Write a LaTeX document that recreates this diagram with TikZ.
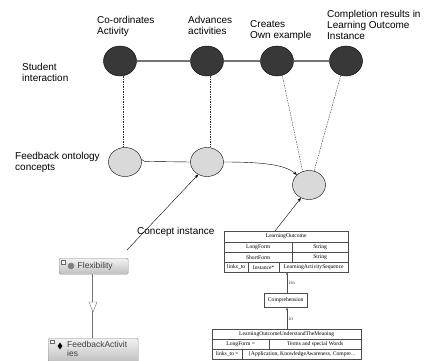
\documentclass[tikz,border=0pt]{standalone}
\usepackage{fontspec}
\setmainfont{Liberation Sans}
\newfontfamily\tabfont{Liberation Serif}
\usetikzlibrary{arrows.meta,positioning,shapes.geometric}

\begin{document}
\begin{tikzpicture}[x=1pt,y=-1pt,
    blackdot/.style={ellipse,draw=black,fill=black!78,minimum width=33pt,minimum height=30pt,inner sep=0},
    greydot/.style={ellipse,draw=black,fill=black!15,minimum width=33pt,minimum height=29pt,inner sep=0},
    lbl/.style={align=left,font=\fontsize{10}{11}\selectfont,inner sep=0,anchor=north west},
    cell/.style={draw=black!70,inner sep=0,font=\tabfont\fontsize{5.6}{6}\selectfont,anchor=north west},
    pbox/.style={draw=black!45,rounded corners=1.5pt,top color=black!5,bottom color=black!25,anchor=north west},
    dot/.style={dash pattern=on 1.5pt off 1pt,black!80},
    link/.style={-{Stealth[length=4pt,width=3pt]}}]
\useasboundingbox (0,0) rectangle (429,361);

% student interaction
\node (A) [blackdot] at (120,61) {};
\node (B) [blackdot] at (207,61) {};
\node (C) [blackdot] at (277,61) {};
\node (D) [blackdot] at (346,61) {};
\draw [black!55,line width=1.2pt] (A) -- (B) -- (C) -- (D);

\node [lbl] at (97,16) {Co-ordinates\\Activity};
\node [lbl] at (188,16) {Advances\\activities};
\node [lbl] at (250,20) {Creates\\Own example};
\node [lbl] at (327,10) {Completion results in\\Learning Outcome\\Instance};
\node [lbl] at (22,63) {Student\\interaction};

% feedback ontology concepts
\node (E) [greydot] at (125,162) {};
\node (F) [greydot] at (207,162) {};
\node (G) [greydot] at (309,185) {};
\node [lbl] at (15,152) {Feedback ontology\\concepts};

\draw [dot] (A.south) ++(3,0) coordinate (a1) -- (a1 |- E.north);
\draw [dot] (B.south) ++(3,0) coordinate (b1) -- (b1 |- F.north);
\draw [dot] (C.290) -- (G.115);
\draw [dot] (D.250) -- (G.70);

\draw (E.10) .. controls (145,162) .. (150,161.5) -- (F.west);
\draw [link] (F.east) .. controls (265,162) and (285,165) .. (G.140);

% concept instance
\node (H) [lbl] at (137,227) {Concept instance};
\coordinate (h1) at (127,250);
\draw [link] (h1) -- (F.235);

% learning outcome table
\node (T) [cell,minimum width=124pt,minimum height=11pt] at (224,231) {LearningOutcome};
\node (T1) [cell,minimum width=68pt,minimum height=10pt] at (224,242) {LongForm};
\node (T2) [cell,minimum width=56pt,minimum height=10pt] at (292,242) {String};
\node (T3) [cell,minimum width=68pt,minimum height=10pt] at (224,252) {ShortForm};
\node (T4) [cell,minimum width=56pt,minimum height=10pt] at (292,252) {String};
\node (T5) [cell,minimum width=24pt,minimum height=10pt] at (224,262) {links\_to};
\node (T6) [cell,minimum width=31pt,minimum height=10pt] at (248,262) {Instance*};
\node (T7) [cell,minimum width=69pt,minimum height=10pt] at (279,262) {LearningActivitySequence};
\draw [link] (275,231) -- (G.238);

\node (K) [cell,minimum width=43pt,minimum height=14pt] at (264,293) {Comprehension};
\draw [-{Stealth[length=3pt,width=2pt]},black!70] (K.north -| 287,0) -- node [right,font=\tabfont\fontsize{5.6}{6}\selectfont,inner sep=1.5pt] {isa} (287,272);

\node (U) [cell,minimum width=149pt,minimum height=10pt] at (212,329) {LearningOutcomeUnderstandTheMeaning};
\node (U1) [cell,minimum width=57pt,minimum height=10pt] at (212,339) {LongForm =};
\node (U2) [cell,minimum width=92pt,minimum height=10pt] at (269,339) {Terms and special Words};
\node (U3) [cell,minimum width=30pt,minimum height=10pt] at (212,349) {links\_to =};
\node (U4) [cell,minimum width=119pt,minimum height=10pt] at (242,349) {\{Application, KnowledgeAwareness, Compre...};
\draw [-{Stealth[length=3pt,width=2pt]},black!70] (U.north -| 287,0) -- node [right,font=\tabfont\fontsize{5.6}{6}\selectfont,inner sep=1.5pt] {io} (K.south -| 287,0);

% protege classes
\node (P) [pbox,minimum width=69pt,minimum height=16pt] at (59,258) {};
\draw [black!60,fill=white] (61.5,260.5) rectangle ++(3.5,3.5);
\fill [black!50] (71,266) circle (3.3);
\node [anchor=west,inner sep=0,font=\fontsize{8.5}{9}\selectfont,text=black!75] at (77.5,266) {Flexibility};

\node (Q) [pbox,minimum width=90pt,minimum height=24pt] at (48,338) {};
\draw [black!60,fill=white] (50.5,340) rectangle ++(3.5,3.5);
\node [diamond,fill=black,inner sep=0,minimum width=5pt,minimum height=7pt] at (60,346) {};
\node [anchor=north west,align=left,inner sep=0,font=\fontsize{8.5}{9}\selectfont,text=black!75] at (67,341.5) {FeedbackActivit\\ies};

\draw [black!55,double=white,double distance=0.8pt,line width=0.5pt] (P.south -| 93,0) -- (Q.north -| 93,0);
\draw [black!55,fill=white] (89,302) -- (97,302) -- (93,312) -- cycle;
\end{tikzpicture}
\end{document}
